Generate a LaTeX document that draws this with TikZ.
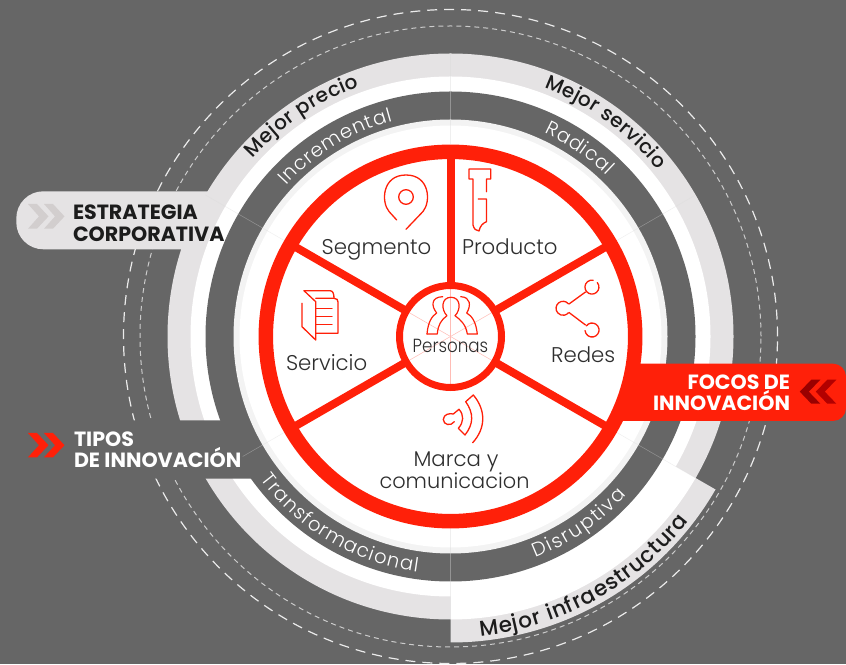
\documentclass[tikz,border=0pt]{standalone}
\usepackage{fontspec}
\usetikzlibrary{decorations.text}
\setmainfont{Poppins}
\newfontfamily\fl{Poppins Light}
\newfontfamily\fp[FakeStretch=0.88]{Poppins Light}
\newfontfamily\fm{Poppins Medium}
\newfontfamily\fb{Poppins Bold}
\definecolor{bgc}{HTML}{666666}
\definecolor{redc}{HTML}{FF2009}
\definecolor{lgc}{HTML}{E5E3E4}
\definecolor{rimc}{HTML}{F3F3F3}
\definecolor{inkc}{HTML}{2E2E2E}
\definecolor{blkc}{HTML}{1C1C1C}
\definecolor{chevc}{HTML}{D2CECE}
\newcommand{\fsz}[1]{\fontsize{#1}{#1}\selectfont}
\newcommand{\arctext}[5]{\path[decorate,decoration={text along path,text={|#4|#5},text align={fit to path}}] ([shift={(c)}]#2:#1pt) arc[start angle=#2,end angle=#3,radius=#1pt];}
\tikzset{
 img/.style={shift={(0,664)},yscale=-1},
 ico/.style={draw=redc,line width=1.3pt,line join=round,line cap=round},
 lab/.style={inner sep=0pt,outer sep=0pt,text=inkc,font=\fl\fsz{21.3},anchor=base west},
 head/.style={inner sep=0pt,outer sep=0pt,text=blkc,font=\fb\fsz{20.6},anchor=base west},
 headw/.style={head,text=white},
 seam/.style={draw=#1,line width=0.5pt},
}
\begin{document}
\begin{tikzpicture}[x=1pt,y=1pt]
\useasboundingbox (0,0) rectangle (846,664);
\fill[bgc] (0,0) rectangle (846,664);
\coordinate (c) at (450.5,327.5);
% dashed orbits
\draw[white!92!black,line width=1.2pt,dash pattern=on 10pt off 7pt] (c) circle[radius=327pt];
\draw[white!80!black,line width=1pt,dash pattern=on 5pt off 4pt] (c) circle[radius=310.5pt];
% Estrategia tab
\begin{scope}[img]
\fill[lgc] (212,191.3) [rounded corners=27pt] -- (16.3,191.3) -- (16.3,249.3) [sharp corners] -- (212,249.3) -- cycle;
\end{scope}
% rings
\fill[lgc] (c) circle[radius=283pt];
\fill[lgc] (c) -- ([shift={(c)}]-90:306pt) arc[start angle=-90,end angle=-30,radius=306pt] -- cycle;
\fill[white] (c) circle[radius=260pt];
\fill[white] (c) -- ([shift={(c)}]-90:283pt) arc[start angle=-90,end angle=-30,radius=283pt] -- cycle;
\fill[bgc] (c) circle[radius=245pt];
% Tipos tab
\begin{scope}[img]
\fill[bgc] (252,420.3) [rounded corners=27pt] -- (17,420.3) -- (17,478.7) [sharp corners] -- (252,478.7) -- cycle;
\end{scope}
% disc
\fill[rimc] (c) circle[radius=217pt];
\fill[white] (c) circle[radius=211pt];
% seams
\foreach \a/\r in {30/283,90/283,150/283,210/240,270/283,330/283}{
 \draw[seam=white!70!gray,opacity=.4] ([shift={(c)}]\a:192pt) -- ([shift={(c)}]\a:\r pt);
}
\foreach \a in {30,90,150,210,270,330}{
 \draw[seam=redc!30] (c) -- ([shift={(c)}]\a:48pt);
}
% Focos tab
\begin{scope}[img]
\fill[redc] (630,363.7) [rounded corners=13pt] -- (846,363.7) -- (846,421) [sharp corners] -- (615,421) -- cycle;
\end{scope}
% wheel
\draw[redc,line width=14.5pt] (c) circle[radius=184.7pt];
\foreach \a in {30,90,150,210,330}{
 \draw[redc,line width=8pt] ([shift={(c)}]\a:51pt) -- ([shift={(c)}]\a:180pt);
}
\draw[redc,line width=7pt] (c) circle[radius=51pt];
% chevrons
\begin{scope}[img]
\fill[chevc] (28,204) -- (37,204) -- (48.5,216.4) -- (37,228.7) -- (28,228.7) -- (39,216.4) -- cycle;
\fill[chevc] (44,204) -- (53,204) -- (64.5,216.4) -- (53,228.7) -- (44,228.7) -- (55,216.4) -- cycle;
\fill[redc] (28,433) -- (37,433) -- (48.5,445.2) -- (37,457.3) -- (28,457.3) -- (39,445.2) -- cycle;
\fill[redc] (44,433) -- (53,433) -- (64.5,445.2) -- (53,457.3) -- (44,457.3) -- (55,445.2) -- cycle;
\fill[red!70!black] (836.3,379.7) -- (827.3,379.7) -- (815.8,391.7) -- (827.3,403.7) -- (836.3,403.7) -- (824.8,391.7) -- cycle;
\fill[red!60!black] (820.3,379.7) -- (811.3,379.7) -- (799.8,391.7) -- (811.3,403.7) -- (820.3,403.7) -- (808.8,391.7) -- cycle;
% pin
\draw[ico] (406,197) circle[radius=7.3pt];
\draw[ico] (396.7,220) -- (389,211.5) .. controls (381,202) and (382,175) .. (406,175) .. controls (430,175) and (431,202) .. (423,211.5) -- (406,229.3);
% product
\draw[ico] (486.5,191.7) -- (486.5,179) -- (490.7,179) -- (490.7,169) -- (469,169) -- (469,179) -- (473,179) -- (473,225) .. controls (474,229) and (476,231) .. (479,231) .. controls (480,226) and (483,223) .. (486.5,221.7) -- (486.5,199) -- (478.3,199);
% share
\draw[ico] (597.3,282.6) arc[start angle=-40,end angle=280,radius=7pt];
\draw[ico] (569,304) -- (585.5,292);
\draw[ico] (569,312.5) -- (585.5,325);
\draw[ico] (568.4,303.8) arc[start angle=-40,end angle=-320,radius=7pt];
\draw[ico] (586.3,326) arc[start angle=-145,end angle=175,radius=7pt];
% sound
\draw[ico] (473.3,395) .. controls (486,410) and (486,428) .. (472.7,442.7);
\draw[ico] (465.7,401.7) -- (473.3,395);
\draw[ico] (465.7,401.7) .. controls (473.8,413) and (473.8,424) .. (465,435) -- (458.3,428.3) .. controls (464,422) and (464,415) .. (459,409.3) -- (453.3,414) .. controls (450,413) and (443.5,414) .. (443.3,419.5) .. controls (443.3,425) and (451,426.5) .. (454.3,421.7);
% service
\draw[ico] (304,290.7) -- (315.7,301.7) -- (315.7,340) -- (302,326.7) -- (302,303.3);
\draw[ico] (304,290.7) -- (330,290.7) .. controls (333,290.7) and (334,294) .. (334,298.3) -- (315.7,298.3);
\draw[ico] (334,298.3) .. controls (337,298.3) and (338,300) .. (338,302) -- (338,333.3) -- (315.7,333.3);
\draw[ico] (315.7,308.3) -- (332,308.3);
\draw[ico] (315.7,316.7) -- (332,316.7);
\draw[ico] (315.7,324.3) -- (332,324.3);
% people
\draw[ico,line width=1.2pt] (427,334) -- (437.3,334) .. controls (438,325) and (441,320) .. (447,315.7) .. controls (441,310) and (441,297.3) .. (451,297.3) .. controls (461,297.3) and (461,310) .. (455,315.7) .. controls (461,320) and (466,325) .. (467.3,334) -- (477.3,334) .. controls (476,322) and (472,316) .. (466.7,313) .. controls (471,306) and (471,297) .. (460.7,296.7);
\draw[ico,line width=1.2pt] (427,334) .. controls (428,322) and (432,316) .. (436.7,313) .. controls (431,306) and (431,297) .. (442.7,296.7);
\end{scope}
% rim labels
\arctext{266}{138}{110}{\fm\fsz{20}\color{blkc}}{Mejor precio}
\arctext{266}{69.4}{38.8}{\fm\fsz{20}\color{blkc}}{Mejor servicio}
\arctext{301}{-84.3}{-37.8}{\fm\fsz{21.5}\color{blkc}}{Mejor infraestructura}
\arctext{223}{137.5}{105}{\fl\fsz{19.5}\color{white}}{Incremental}
\arctext{224}{65.3}{45.8}{\fl\fsz{19.5}\color{white}}{Radical}
\arctext{238}{217}{262}{\fl\fsz{19.5}\color{white}}{Transformacional}
\arctext{237}{-69}{-42}{\fl\fsz{19.5}\color{white}}{Disruptiva}
% labels
\node[lab] (seg) at (321.7,409) {Segmento};
\node[lab] (pro) at (462,409) {Producto};
\node[lab] (red) at (551,301.3) {Redes};
\node[lab] (ser) at (286,293) {Servicio};
\node[lab,anchor=base,font=\fp\fsz{19}] (per) at (450.5,311.3) {Personas};
\node[lab,anchor=base] (mar) at (456,197) {Marca y};
\node[lab,anchor=base,font=\fl\fsz{20.9}] (com) at (454.5,175.3) {comunicacion};
\node[head] (est) at (73,444) {ESTRATEGIA};
\node[head] (cor) at (73,422.3) {CORPORATIVA};
\node[headw] (tip) at (74,217.7) {TIPOS};
\node[headw] (dei) at (74,196) {DE INNOVACIÓN};
\node[headw,anchor=base east] (foc) at (790,274.7) {FOCOS DE};
\node[headw,anchor=base east] (inn) at (790,253.7) {INNOVACIÓN};
\end{tikzpicture}
\end{document}
